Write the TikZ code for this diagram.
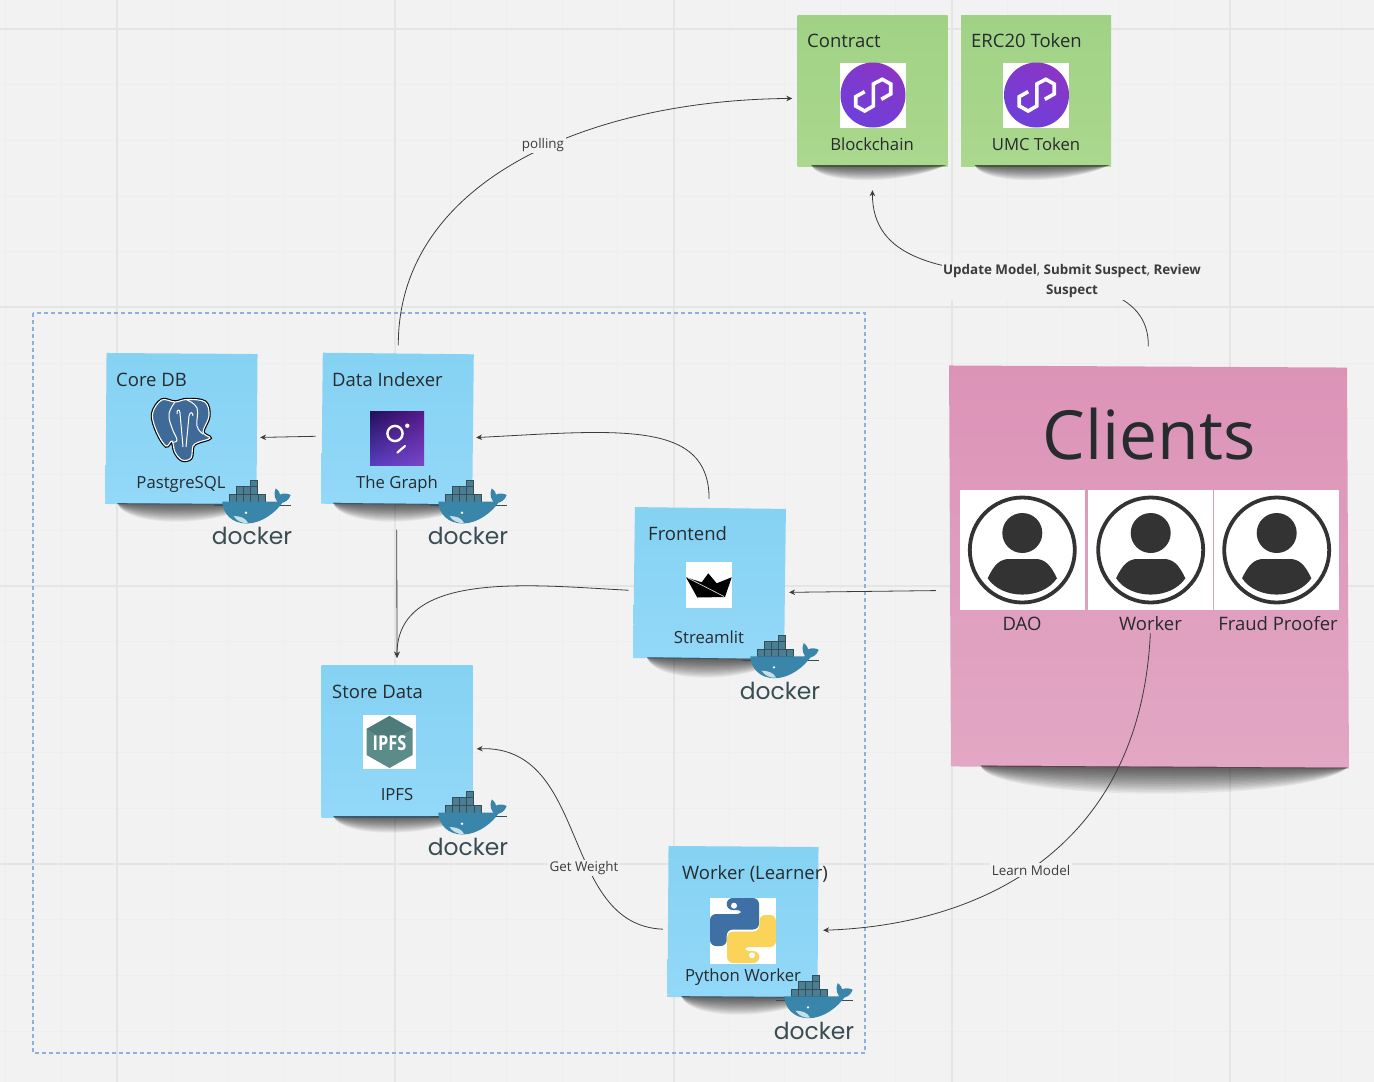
\documentclass[tikz,border=0pt]{standalone}
\usepackage{fontspec}
\setmainfont{Open Sans}
\newfontfamily\dockerfont{Poppins}
\usetikzlibrary{arrows.meta,calc,shadings}

\definecolor{boardbg}{HTML}{F2F2F2}
\definecolor{gridmajor}{HTML}{E5E5E5}
\definecolor{gridminor}{HTML}{EEEEEE}
\definecolor{inkcolor}{HTML}{262B2E}
\definecolor{linkcolor}{HTML}{3C3C3C}
\definecolor{groupdash}{HTML}{8CB0E2}
\definecolor{bluetop}{HTML}{85D2F3}
\definecolor{bluebot}{HTML}{93D8F8}
\definecolor{greentop}{HTML}{A0D285}
\definecolor{greenbot}{HTML}{AAD88E}
\definecolor{pinktop}{HTML}{DC93B7}
\definecolor{pinkbot}{HTML}{E2A7C4}
\definecolor{polyleft}{HTML}{8A35C5}
\definecolor{polyright}{HTML}{6E40DA}
\definecolor{avatarink}{HTML}{333333}
\definecolor{pgblue}{HTML}{3F6A97}
\definecolor{graphll}{HTML}{583CBE}
\definecolor{graphlr}{HTML}{7846C8}
\definecolor{graphul}{HTML}{221058}
\definecolor{graphur}{HTML}{58188C}
\definecolor{boatline}{HTML}{D7D7D7}
\definecolor{ipfslight}{HTML}{5B8C8A}
\definecolor{ipfsdark}{HTML}{4E7C7A}
\definecolor{pyblue}{HTML}{3E70A5}
\definecolor{pyyellow}{HTML}{FAD458}
\definecolor{dockerblue}{HTML}{3A86AB}
\definecolor{dockerbox}{HTML}{4A7E95}
\definecolor{dockerword}{HTML}{394D54}
\definecolor{dockerbelly}{HTML}{C7DFE6}

\tikzset{
    stickynote/.style={rectangle,inner sep=0pt,minimum width=151pt,minimum height=151pt},
    bluenote/.style={stickynote,top color=bluetop,bottom color=bluebot},
    greennote/.style={stickynote,top color=greentop,bottom color=greenbot},
    pinknote/.style={stickynote,minimum width=398pt,minimum height=401pt,top color=pinktop,bottom color=pinkbot},
    notetext/.style={inner sep=0pt,text=inkcolor,font=\fontsize{18.5}{22}\selectfont},
    title/.style={notetext,anchor=base west},
    caption/.style={notetext,anchor=base,font=\fontsize{16.7}{20}\selectfont},
    person/.style={notetext,anchor=base},
    link/.style={draw=linkcolor,line width=0.8pt,-{Stealth[length=6pt,width=5.5pt]}},
    linklabel/.style={fill=boardbg,inner sep=1.5pt,text=linkcolor,font=\fontsize{13.4}{20}\selectfont,align=center},
    whitetile/.style={fill=white},
    polylogo/.pic={
        \shade[left color=polyleft,right color=polyright,shading angle=-30] (0,0) circle (32.5);
        \draw[white,line width=3.6pt,miter limit=10]
            (-8.3,-3.3) -- (-17.3,1.7) -- (-17.3,11) -- (-8.3,16) -- (0.3,11) -- (0.3,-11)
            -- (9.3,-15.7) -- (17.7,-11) -- (17.7,-1) -- (8.3,4.3);
    },
    avatar/.pic={
        \draw[avatarink,line width=3.8pt] (0,0) circle (52.5);
        \fill[avatarink] (0,-17) circle (20);
        \fill[avatarink] (-34.6,28.3) .. controls (-28,14) and (-22,9) .. (-13,9)
            -- (13,9) .. controls (22,9) and (28,14) .. (34.6,28.3)
            .. controls (20,50) and (-20,50) .. cycle;
    },
    dockerlogo/.pic={
        % waterline, then the boxes on deck
        \draw[dockerword,line width=0.3pt] (-38,5.5) -- (39,5.5);
        \foreach \cx in {-23,-15.8,-8.6,-1.4,5.8}
            \draw[fill=dockerbox,draw=dockerword,line width=0.4pt] (\cx,-6) rectangle ++(7.2,7.7);
        \foreach \cx in {-16,-8.8,-1.6}
            \draw[fill=dockerbox,draw=dockerword,line width=0.4pt] (\cx,-13.4) rectangle ++(7.2,7.4);
        \draw[fill=dockerbox,draw=dockerword,line width=0.4pt] (-1.8,-20) rectangle ++(7.2,6.6);
        % whale
        \fill[dockerblue] (-29.7,1.7) -- (21,1.7) .. controls (26,2) and (28,0) .. (30.7,2.3)
            .. controls (24,12) and (10,23.5) .. (-5.3,23.5) .. controls (-20,23.5) and (-29,14) .. cycle;
        \fill[dockerblue] (23.7,-11.7) .. controls (27,-9) and (28,-7) .. (28,-5.5)
            .. controls (32,-7) and (36,-6.5) .. (38.7,-5) .. controls (37,0) and (33,3) .. (28,3)
            .. controls (23,2) and (21,-6) .. cycle;
        \fill[dockerbelly] (-18.5,16) .. controls (-12,16) and (-6,18) .. (-4,23)
            .. controls (-10,23.5) and (-15,21) .. cycle;
        \fill[white] (-6,12.7) circle (1.3);
        \node[text=dockerword,inner sep=0pt,anchor=base,font=\dockerfont\fontsize{23.4}{26}\selectfont] (-word) at (0,44.5) {docker};
    }
}

% lenses under a note, darker towards the bottom edge
\newcommand*\noteshadow[3]{
    \foreach \part in {0.1,0.16,...,1.01}
        \fill[black,opacity=0.05] ($(#1.south west)+(#2,-1)$) .. controls +(8,#3*\part) and +(-40,#3*\part) .. ($(#1.south east)+(-2,-1)$) -- cycle;
}

\begin{document}
\begin{tikzpicture}[x=1pt,y=-1pt]
    \useasboundingbox (0,0) rectangle (1374,1082);
    \fill[boardbg] (0,0) rectangle (1374,1082);

    % The board grid.
    \foreach \k in {-2,...,23}
        \draw[gridminor,line width=1pt] ({117+55.64*\k},0) -- ({117+55.64*\k},1082);
    \foreach \k in {-1,...,19}
        \draw[gridminor,line width=1pt] (0,{29+55.68*\k}) -- (1374,{29+55.68*\k});
    \foreach \gx in {117,395,674,952,1230}
        \draw[gridmajor,line width=2.4pt] (\gx,0) -- (\gx,1082);
    \foreach \gy in {29,307,586,864}
        \draw[gridmajor,line width=2.4pt] (0,\gy) -- (1374,\gy);

    % The dashed group.
    \draw[draw=groupdash,line width=1.2pt,dash pattern=on 4pt off 3pt] (33,313) rectangle (865,1053);

    % Notes.
    \node[greennote,minimum width=150pt] (contract) at (872.5,90.5) {};
    \node[greennote,minimum width=150pt] (erctoken) at (1036,90.5) {};
    \node[bluenote,rotate=-0.4] (coredb) at (181.5,429) {};
    \node[bluenote,rotate=-0.6] (indexer) at (397.5,429) {};
    \node[bluenote,rotate=-0.7] (frontend) at (709.5,583.5) {};
    \node[bluenote,minimum height=152pt] (storedata) at (397,741) {};
    \node[bluenote,rotate=-0.4,minimum width=150pt] (learner) at (743,922) {};
    \node[pinknote,xslant=-0.01,rotate=-0.3] (clients) at (1149,567) {};

    \noteshadow{contract}{14}{20}
    \noteshadow{erctoken}{14}{20}
    \noteshadow{coredb}{12}{24}
    \noteshadow{indexer}{12}{24}
    \noteshadow{frontend}{14}{26}
    \noteshadow{storedata}{12}{22}
    \noteshadow{learner}{14}{24}
    \noteshadow{clients}{30}{36}

    % Contract and token.
    \fill[whitetile] (840,63) rectangle (906,128);
    \fill[whitetile] (1003,63) rectangle (1069,128);
    \pic at (873,95) {polylogo};
    \pic at (1036.5,95) {polylogo};
    \node[title] (contracttitle) at (807,47) {Contract};
    \node[caption] (contractname) at (872,150) {Blockchain};
    \node[title] (ercttitle) at (971,47) {ERC20 Token};
    \node[caption] (ercname) at (1036,150) {UMC Token};

    % Elephant.
    \foreach \pen/\wd in {black/3.4,white/1.1}
        \draw[fill=pgblue,draw=\pen,line width=\wd pt] plot[smooth cycle,tension=0.6] coordinates {
            (161.7,400) (152.5,414) (157,432) (166,446) (172,441) (175,452) (182,460) (191,458) (193,446)
            (199,442) (210,438) (203,432) (209,416) (205,402) (187,399.5) (175,402)};
    \draw[white,line width=1pt] plot[smooth,tension=0.7] coordinates {(175,402) (169,414) (172,428) (177,440) (172,442)};
    \draw[white,line width=1pt] plot[smooth,tension=0.7] coordinates {(187,400) (197,408) (197,426) (203,434)};
    \draw[white,line width=1pt] (177,414) .. controls (176,410) and (180,408) .. (180,413) -- (183,447);
    \draw[white,line width=1pt] (193,416) .. controls (193,412) and (190,411) .. (189,416) -- (186,447);
    \node[caption] (coredbname) at (181,488) {PastgreSQL};
    \node[title] (coredbtitle) at (116,386) {Core DB};

    % The Graph tile.
    \shade[lower left=graphll,lower right=graphlr,upper left=graphul,upper right=graphur] (370,411) rectangle (424,465);
    \draw[white,line width=2.4pt] (395,433.5) circle (7.6);
    \fill[white] (407.3,425.7) circle (2.2);
    \draw[white,line width=2.2pt,line cap=round] (405,446) -- (397.5,452.5);
    \node[title] (indexertitle) at (332,386) {Data Indexer};
    \node[caption] (indexername) at (397,488) {The Graph};

    % Streamlit boat.
    \fill[whitetile] (686,562) rectangle (732,608);
    \fill[black] (686,577.3) -- (701.7,582.3) -- (708.3,573.3) -- (716.7,583.3) -- (731.7,577.3) -- (725,597) -- (697.3,597.5) -- cycle;
    \draw[boatline,line width=0.7pt] (688,578) -- (724,596.5);
    \node[title] (frontendtitle) at (648,540) {Frontend};
    \node[caption] (frontendname) at (709,643) {Streamlit};

    % IPFS hexagon.
    \fill[whitetile] (363,715) rectangle (416,768.5);
    \fill[ipfslight] (389.5,716) -- (412.5,729) -- (412.5,755) -- (389.5,768) -- (366.5,755) -- (366.5,729) -- cycle;
    \fill[ipfsdark] (389.5,716) -- (412.5,729) -- (389.5,742) -- (366.5,729) -- cycle;
    \node[inner sep=0pt,text=white,font=\bfseries\fontsize{20.5}{21}\selectfont,xscale=0.8] (ipfsglyph) at (389.5,743) {IPFS};
    \node[title] (storetitle) at (332,698) {Store Data};
    \node[caption] (storename) at (397,800) {IPFS};

    % Python snakes.
    \fill[whitetile] (710,897.5) rectangle (776,963.5);
    \foreach \ang/\snake in {0/pyblue,180/pyyellow} {
        \fill[\snake,rounded corners=6pt,rotate around={\ang:(743,930.5)}]
            (726.7,898) -- (759,898) -- (759,929.5) -- (726.7,929.5) -- (726.7,946) -- (710,946)
            -- (710,914) -- (742.7,914) -- (742.7,910) -- (726.7,910) -- cycle;
        \fill[white,rotate around={\ang:(743,930.5)}] (734,905.7) circle (3);
    }
    \node[title] (learnertitle) at (682,879) {Worker (Learner)};
    \node[caption] (learnername) at (743,981) {Python Worker};

    % Clients.
    \node[notetext,anchor=base,font=\fontsize{67.8}{70}\selectfont] (clientstitle) at (1149,459) {Clients};
    \fill[whitetile] (960,490) rectangle (1085,609.5);
    \fill[whitetile] (1088,490) rectangle (1213,609.5);
    \fill[whitetile] (1214,490) rectangle (1339,609.5);
    \pic at (1022.3,550) {avatar};
    \pic at (1150.7,550) {avatar};
    \pic at (1276.7,550) {avatar};
    \node[person] (daoname) at (1022,630) {DAO};
    \node[person] (workername) at (1150.5,630) {Worker};
    \node[person] (proofername) at (1278,630) {Fraud Proofer};

    % Connectors.
    \draw[link,shorten <=8pt,shorten >=5pt] (indexer.north) .. controls (398,180) and (590,100) .. (contract.186);
    \node[linklabel] (pollinglabel) at (543,145) {polling};
    \draw[link,shorten <=20pt,shorten >=24pt] (clients.north) .. controls (1150,230) and (872,325) .. (contract.south);
    \node[linklabel] (updatelabel) at (1072,281.5) {\textbf{Update Model}, \textbf{Submit Suspect}, \textbf{Review}\\\textbf{Suspect}};
    \draw[link,shorten <=6pt,shorten >=3pt] (indexer.186) -- (coredb.354);
    \draw[link,shorten <=9pt,shorten >=3pt] (frontend.91) .. controls (709,420) and (620,430) .. (indexer.354);
    \draw[link,shorten <=14pt,shorten >=4pt] (clients.187.6) -- (frontend.354);
    \draw[link,shorten <=25pt,shorten >=7pt] (indexer.south) -- (storedata.north);
    \draw[link,shorten <=5pt,shorten >=7pt] (frontend.186) .. controls (530,585) and (397,570) .. (storedata.north);
    \draw[link,shorten <=5pt,shorten >=4pt] (learner.186) .. controls (560,925) and (590,745) .. (storedata.354);
    \node[linklabel] (weightlabel) at (584,868) {Get Weight};
    \draw[link,shorten <=3pt,shorten >=5pt] (workername.south) .. controls (1140,850) and (980,925) .. (learner.354);
    \node[linklabel] (learnlabel) at (1031,870) {Learn Model};

    % Docker whales, on top of everything.
    \pic (coredbdocker) at (252,500) {dockerlogo};
    \pic (indexerdocker) at (468,500) {dockerlogo};
    \pic (frontenddocker) at (780,654.7) {dockerlogo};
    \pic (storedocker) at (468,811) {dockerlogo};
    \pic (learnerdocker) at (814,994.7) {dockerlogo};
\end{tikzpicture}
\end{document}
